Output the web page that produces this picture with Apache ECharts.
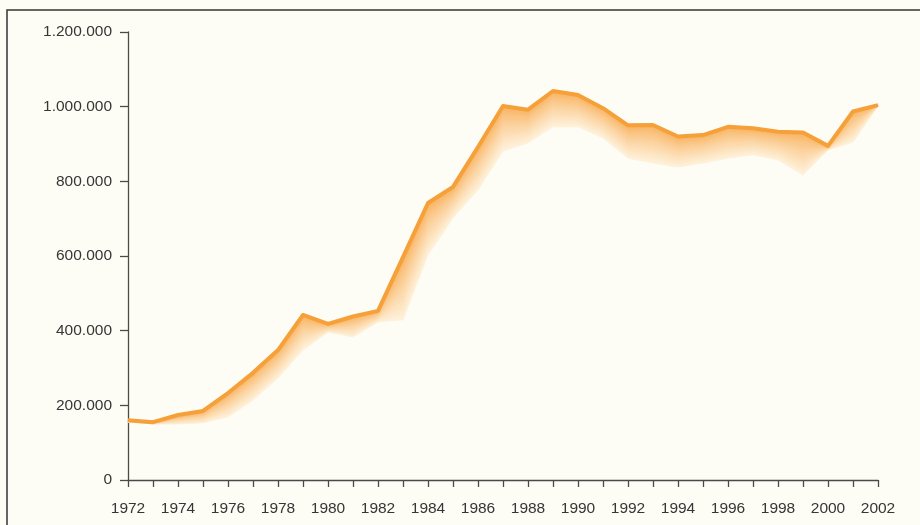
<!DOCTYPE html>
<html>
<head>
<meta charset="utf-8">
<script src="https://cdn.jsdelivr.net/npm/echarts@6/dist/echarts.min.js"></script>
<style>
html,body{margin:0;padding:0;background:#fefdf5;}
#chart{width:920px;height:525px;}
</style>
</head>
<body>
<div id="chart"></div>
<script>
var years = [1972,1973,1974,1975,1976,1977,1978,1979,1980,1981,1982,1983,1984,1985,1986,1987,1988,1989,1990,1991,1992,1993,1994,1995,1996,1997,1998,1999,2000,2001,2002];
var upperValues = [160000,155000,174000,185000,233000,287000,348000,442000,418000,438000,453000,597000,742000,785000,892000,1002000,992000,1042000,1031000,996000,950000,951000,920000,924000,946000,942000,933000,931000,895000,987000,1004000];
var lowerValues = [155000,150000,150000,153000,169000,214000,273000,348000,396000,383000,423000,429000,603000,702000,777000,881000,903000,946000,946000,916000,862000,849000,838000,849000,862000,871000,857000,817000,884000,905000,1002000];
var yTicks = [0,200000,400000,600000,800000,1000000,1200000];

var lineData = years.map(function(y, i){ return [y, upperValues[i]]; });
var bandData = years.map(function(y, i){ return [y, upperValues[i], lowerValues[i]]; });

function fmt(v){
  return String(v).replace(/\B(?=(\d{3})+(?!\d))/g, '.');
}

var STRIPS = 16;
var topC = [248, 176, 92];
var botC = [254, 242, 220];
function mix(t){
  var e = Math.pow(t, 0.8);
  return 'rgb(' + [0,1,2].map(function(k){ return Math.round(topC[k] + (botC[k]-topC[k]) * e); }).join(',') + ')';
}

var chart = echarts.init(document.getElementById('chart'), null, {renderer:'canvas'});
var textColor = '#363636';
var axisColor = '#4a4a4a';
chart.setOption({
  backgroundColor: '#fefdf5',
  animation: false,
  grid: {left: 128, right: 42, top: 32, bottom: 45, containLabel: false},
  xAxis: {
    type: 'value', min: 1972, max: 2002, interval: 1,
    axisLine: {show: true, lineStyle: {color: axisColor, width: 1.3}},
    axisTick: {show: true, length: 7, lineStyle: {color: axisColor, width: 1.3}},
    splitLine: {show: false},
    axisLabel: {
      color: textColor, fontFamily: 'Liberation Sans, Arial, sans-serif', fontSize: 15.5, margin: 21,
      formatter: function(v){ return v % 2 === 0 ? String(v) : ''; }
    }
  },
  yAxis: {
    type: 'value', min: yTicks[0], max: yTicks[yTicks.length-1], interval: 200000,
    axisLine: {show: true, lineStyle: {color: axisColor, width: 1.3}},
    axisTick: {show: true, length: 8, lineStyle: {color: axisColor, width: 1.3}},
    splitLine: {show: false},
    axisLabel: {
      color: textColor, fontFamily: 'Liberation Sans, Arial, sans-serif', fontSize: 15.5, margin: 16,
      formatter: function(v){ return fmt(v); }
    }
  },
  graphic: [{
    type: 'rect', silent: true, z: 100,
    shape: {x: 7, y: 10, width: 940, height: 540},
    style: {fill: 'none', stroke: '#333', lineWidth: 1.5}
  }],
  series: [{
    type: 'custom',
    data: bandData,
    z: 1,
    renderItem: function(params, api){
      if (params.dataIndex !== 0) return null;
      var up = bandData.map(function(d){ return api.coord([d[0], d[1]]); });
      var lo = bandData.map(function(d){ return api.coord([d[0], d[2]]); });
      function curve(t){
        return up.map(function(p, i){ return [p[0] + (lo[i][0]-p[0])*t, p[1] + (lo[i][1]-p[1])*t]; });
      }
      var children = [];
      for (var k = STRIPS - 1; k >= 0; k--) {
        var t0 = k / STRIPS, t1 = (k + 1) / STRIPS;
        var c0 = curve(t0), c1 = curve(t1).reverse();
        var col = mix((k + 0.5) / STRIPS);
        children.push({
          type: 'polygon',
          shape: {points: c0.concat(c1)},
          style: {fill: col, stroke: col, lineWidth: 0.8}
        });
      }
      return {type: 'group', children: children};
    }
  }, {
    type: 'line',
    data: lineData,
    z: 5,
    symbol: 'none',
    lineStyle: {color: '#f6a03a', width: 4, join: 'round'}
  }]
});
</script>
</body>
</html>
